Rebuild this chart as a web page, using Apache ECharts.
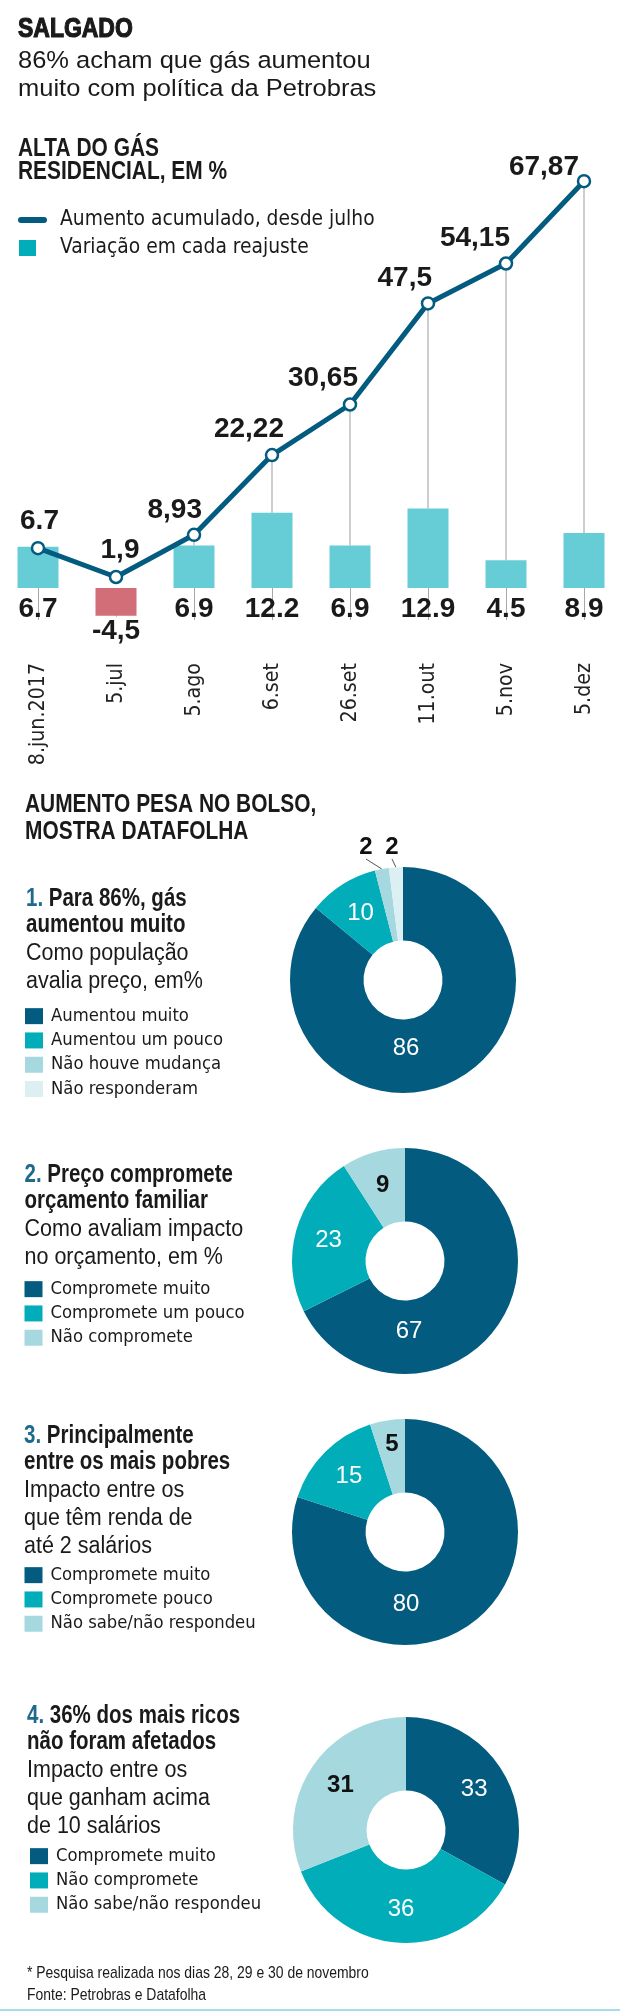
<!DOCTYPE html>
<html><head><meta charset="utf-8">
<script src="https://cdn.jsdelivr.net/npm/echarts@6/dist/echarts.min.js"></script>
<style>html,body{margin:0;padding:0;background:#fff}#c{width:620px;height:2014px}</style>
</head><body><div id="c"></div>
<script>
// ---------- data ----------
const dates = ['8.jun.2017','5.jul','5.ago','6.set','26.set','11.out','5.nov','5.dez'];
const variation = [6.7, -4.5, 6.9, 12.2, 6.9, 12.9, 4.5, 8.9];
const variationLabels = ['6.7','-4,5','6.9','12.2','6.9','12.9','4.5','8.9'];
const accumulated = [6.7, 1.9, 8.93, 22.22, 30.65, 47.5, 54.15, 67.87];
const accumulatedLabels = ['6.7','1,9','8,93','22,22','30,65','47,5','54,15','67,87'];

const pie1Names = ['Aumentou muito','Aumentou um pouco','Não houve mudança','Não responderam'];
const pie1Values = [86, 10, 2, 2];
const pie2Names = ['Compromete muito','Compromete um pouco','Não compromete'];
const pie2Values = [67, 23, 9];
const pie3Names = ['Compromete muito','Compromete pouco','Não sabe/não respondeu'];
const pie3Values = [80, 15, 5];
const pie4Names = ['Compromete muito','Não compromete','Não sabe/não respondeu'];
const pie4Values = [33, 36, 31];

// ---------- style ----------
const COND = "'DejaVu Sans Condensed','DejaVu Sans',sans-serif";
const SANS = "'Liberation Sans',Arial,sans-serif";
const NARROW_X = 0.82;            // horizontal squeeze used to emulate a narrow face
const INK = '#1a1a1a';
const DARK = '#035c7f', TEAL = '#00adb9', LIGHT = '#a6d8df', VLIGHT = '#dcf0f3';
const BAR = '#66cdd6', RED = '#d16e78', NUM = '#1f6a8a';

const BAR_MIN = -6, BAR_MAX = 69.4, LINE_MIN = -6.1, LINE_MAX = 71.4;
const barToLine = v => LINE_MIN + (v - BAR_MIN) * (LINE_MAX - LINE_MIN) / (BAR_MAX - BAR_MIN);

// label placement of accumulated labels: [dx, align, distance]
const lineLabelPlace = [[1.5,'center',5],[4,'center',4],[8,'right',2],[12,'right',4],[8,'right',4],[4,'right',3],[4,'right',3],[-5,'right',-8]];

function txt(x, y, text, size, weight, sx, color, rich, strokeW) {
  const st = {text, font: (weight || 'normal') + ' ' + size + 'px ' + SANS, fill: color || INK, align: 'left', verticalAlign: 'middle'};
  if (rich) st.rich = rich;
  if (strokeW) { st.stroke = color || INK; st.lineWidth = strokeW; }
  return {type: 'text', x, y, scaleX: sx || 1, scaleY: 1, style: st, silent: true};
}
const numRich = {n: {fill: NUM, font: 'bold 25px ' + SANS}};
function section(x, y0, title1, title2, desc) {
  const out = [];
  out.push(txt(x, y0, title1, 25, 'bold', NARROW_X, INK, numRich));
  out.push(txt(x, y0 + 26.5, title2, 25, 'bold', NARROW_X, INK));
  desc.forEach((d, i) => out.push(txt(x, y0 + 55 + i * 27.6, d, 23.5, 'normal', 0.915, INK)));
  return out;
}

const graphics = [
  txt(18, 29.5, 'SALGADO', 28, 'bold', NARROW_X, INK, null, 1.2),
  txt(18, 61, '86% acham que gás aumentou', 24.5, 'normal', 1.04),
  txt(18, 89.5, 'muito com política da Petrobras', 24.5, 'normal', 1.04),
  txt(18, 148.5, 'ALTA DO GÁS', 25.5, 'bold', NARROW_X),
  txt(18, 171.5, 'RESIDENCIAL, EM %', 25.5, 'bold', NARROW_X),
  txt(25, 804.5, 'AUMENTO PESA NO BOLSO,', 25.5, 'bold', NARROW_X),
  txt(25, 832, 'MOSTRA DATAFOLHA', 25.5, 'bold', NARROW_X),
  ...section(26, 899, '{n|1.} Para 86%, gás', 'aumentou muito', ['Como população', 'avalia preço, em%']),
  ...section(24.5, 1175, '{n|2.} Preço compromete', 'orçamento familiar', ['Como avaliam impacto', 'no orçamento, em %']),
  ...section(24, 1436, '{n|3.} Principalmente', 'entre os mais pobres', ['Impacto entre os', 'que têm renda de', 'até 2 salários']),
  ...section(27, 1716, '{n|4.} 36% dos mais ricos', 'não foram afetados', ['Impacto entre os', 'que ganham acima', 'de 10 salários']),
  txt(27, 1973, '* Pesquisa realizada nos dias 28, 29 e 30 de novembro', 17, 'normal', NARROW_X),
  txt(27, 1995, 'Fonte: Petrobras e Datafolha', 17, 'normal', NARROW_X),
  {type: 'rect', shape: {x: 0, y: 2009, width: 620, height: 2}, style: {fill: '#a9dcea'}, silent: true}
];

// ---------- legends ----------
function pieLegend(left, top, names, colors) {
  return {
    orient: 'vertical', left, top, padding: 0, itemGap: 0, itemWidth: 18, itemHeight: 16, icon: 'rect',
    selectedMode: false,
    textStyle: {fontFamily: COND, fontSize: 18.3, color: INK, lineHeight: 24.3, padding: [0, 0, 0, 3]},
    data: names.map((n, i) => ({name: n, itemStyle: {color: colors[i], borderWidth: 0}}))
  };
}
const legends = [
  {orient: 'vertical', left: 18, top: 206, padding: 0, itemGap: 0, itemWidth: 29, itemHeight: 6,
   selectedMode: false,
   icon: 'path://M3 0H26A3 3 0 0 1 26 6H3A3 3 0 0 1 3 0Z',
   textStyle: {fontFamily: COND, fontSize: 20.8, color: INK, lineHeight: 28, padding: [0, 0, 0, 8]},
   data: [{name: 'Aumento acumulado, desde julho', itemStyle: {color: DARK, borderWidth: 0}}]},
  {orient: 'vertical', left: 19, top: 234, padding: 0, itemGap: 0, itemWidth: 17, itemHeight: 16, icon: 'rect',
   selectedMode: false,
   textStyle: {fontFamily: COND, fontSize: 20.8, color: INK, lineHeight: 28, padding: [0, 0, 0, 19]},
   data: [{name: 'Variação em cada reajuste', itemStyle: {color: TEAL, borderWidth: 0}}]},
  pieLegend(25, 1004, pie1Names, [DARK, TEAL, LIGHT, VLIGHT]),
  pieLegend(24.5, 1277, pie2Names, [DARK, TEAL, LIGHT]),
  pieLegend(24.5, 1563, pie3Names, [DARK, TEAL, LIGHT]),
  pieLegend(30, 1844, pie4Names, [DARK, TEAL, LIGHT])
];

// ---------- pies ----------
function pieSeries(names, values, colors, center, labelPos, outsideIdx) {
  const darkSet = [LIGHT, VLIGHT];
  return {
    type: 'pie', center, radius: [39.5, 113], startAngle: 90, clockwise: true,
    avoidLabelOverlap: false, silent: true, emphasis: {disabled: true},
    itemStyle: {borderWidth: 0},
    label: {show: true, position: 'inside', formatter: '{c}', fontFamily: SANS, fontSize: 24},
    labelLine: {show: false},
    labelLayout: function (p) {
      const o = labelPos[p.dataIndex];
      if (!o) return {};
      return {x: center[0] + o[0], y: center[1] + o[1], align: 'center', verticalAlign: 'middle'};
    },
    data: names.map((n, i) => {
      const isDarkText = darkSet.indexOf(colors[i]) >= 0;
      const item = {name: n, value: values[i], itemStyle: {color: colors[i]},
        label: {color: isDarkText ? '#111' : '#fff', fontWeight: isDarkText ? 'bold' : 'normal'}};
      if (outsideIdx && outsideIdx.indexOf(i) >= 0) {
        item.label.position = 'outside';
        item.labelLine = {show: true, length: 6, length2: 0, lineStyle: {color: '#555', width: 1}};
      }
      return item;
    })
  };
}

const option = {
  animation: false,
  backgroundColor: '#fff',
  graphic: graphics,
  legend: legends,
  grid: {left: -1, width: 624, top: 160, height: 465, containLabel: false, outerBoundsMode: 'none'},
  xAxis: {
    type: 'category', data: dates, boundaryGap: true,
    axisLine: {show: false},
    axisTick: {show: true, alignWithLabel: true, length: 32, lineStyle: {color: '#a8a8a8', width: 1}},
    axisLabel: {rotate: 90, margin: 38, interval: 0, fontFamily: COND, fontSize: 21.2, color: '#222'},
    splitLine: {show: false}
  },
  yAxis: [
    {type: 'value', min: BAR_MIN, max: BAR_MAX, show: false, splitLine: {show: false}},
    {type: 'value', min: LINE_MIN, max: LINE_MAX, show: false, splitLine: {show: false}}
  ],
  series: [
    {
      type: 'custom', name: 'ligacao', yAxisIndex: 1, silent: true, z: 1,
      encode: {x: 0, y: 1},
      data: accumulated.map((v, i) => [i, v, variation[i]]),
      renderItem: function (params, api) {
        const i = api.value(0), lv = api.value(1), bv = api.value(2);
        if (bv <= 0) return null;
        const p = api.coord([i, lv]);
        const b = api.coord([i, barToLine(bv)]);
        if (p[1] >= b[1]) return null;
        return {type: 'line', shape: {x1: p[0], y1: p[1], x2: p[0], y2: b[1]}, style: {stroke: '#9c9c9c', lineWidth: 1}};
      }
    },
    {
      type: 'bar', name: 'Variação em cada reajuste', yAxisIndex: 0, barWidth: 41, z: 2,
      silent: true,
      label: {show: true, position: 'bottom', distance: 6, lineHeight: 30,
        fontFamily: SANS, fontWeight: 'bold', fontSize: 28, color: INK,
        formatter: p => variationLabels[p.dataIndex]},
      data: variation.map(v => {
        const it = {value: v, itemStyle: {color: v < 0 ? RED : BAR}};
        if (v < 0) it.label = {distance: 1, backgroundColor: '#fff', padding: [0, 2, 0, 2]};
        return it;
      })
    },
    {
      type: 'line', name: 'Aumento acumulado, desde julho', yAxisIndex: 1, z: 3, silent: true,
      symbol: 'circle', symbolSize: 12,
      lineStyle: {color: DARK, width: 5, join: 'round'},
      itemStyle: {color: '#fff', borderColor: DARK, borderWidth: 2.5},
      label: {show: true, position: 'top', lineHeight: 30, fontFamily: SANS, fontWeight: 'bold',
        fontSize: 28, color: INK, formatter: p => accumulatedLabels[p.dataIndex]},
      data: accumulated.map((v, i) => {
        const pl = lineLabelPlace[i];
        return {value: v, label: {align: pl[1], offset: [pl[0], 0], distance: pl[2]}};
      })
    },
    pieSeries(pie1Names, pie1Values, [DARK, TEAL, LIGHT, VLIGHT], [403, 980],
      {0: [3, 68], 2: [-37, -133], 3: [-11, -133]}, [2, 3]),
    pieSeries(pie2Names, pie2Values, [DARK, TEAL, LIGHT], [405, 1261], {0: [4, 70]}),
    pieSeries(pie3Names, pie3Values, [DARK, TEAL, LIGHT], [405, 1532], {0: [1, 72], 2: [-13, -88]}),
    pieSeries(pie4Names, pie4Values, [DARK, TEAL, LIGHT], [406, 1830], {})
  ]
};

const chart = echarts.init(document.getElementById('c'), null, {renderer: 'canvas'});
chart.setOption(option);
</script>
</body></html>
